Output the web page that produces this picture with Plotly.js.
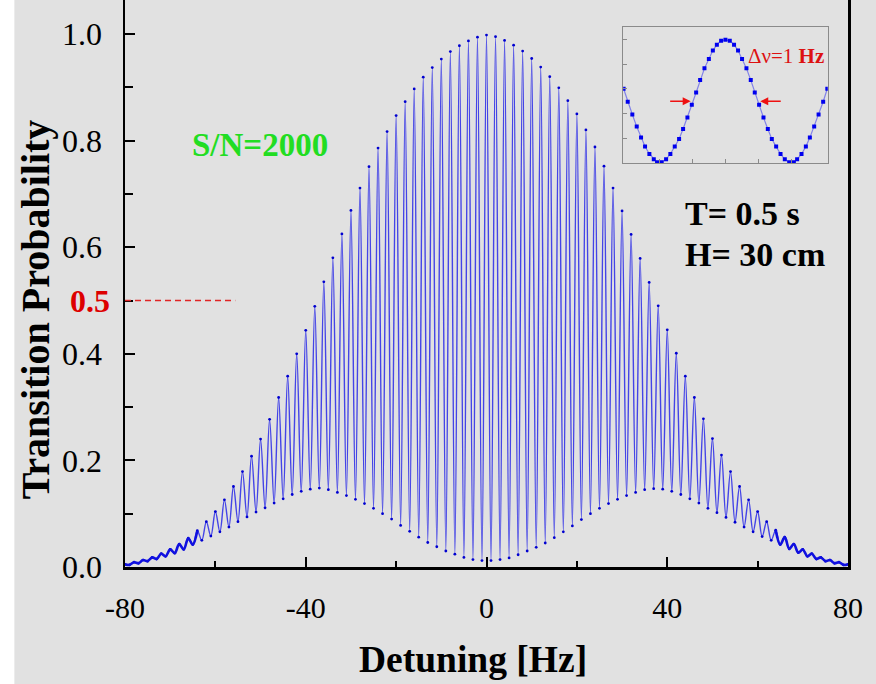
<!DOCTYPE html>
<html>
<head>
<meta charset="utf-8">
<script src="https://cdn.plot.ly/plotly-3.0.1.min.js"></script>
<style>html,body{margin:0;padding:0;background:#fff;}#chart{width:876px;height:684px;}</style>
</head>
<body>
<div id="chart"></div>
<script>
// ---- Main Ramsey fringe: fringe maxima (even detunings) and minima (odd detunings)
const peakDetuning = [-80,-78,-76,-74,-72,-70,-68,-66,-64,-62,-60,-58,-56,-54,-52,-50,-48,-46,-44,-42,-40,-38,-36,-34,-32,-30,-28,-26,-24,-22,-20,-18,-16,-14,-12,-10,-8,-6,-4,-2,0,2,4,6,8,10,12,14,16,18,20,22,24,26,28,30,32,34,36,38,40,42,44,46,48,50,52,54,56,58,60,62,64,66,68,70,72,74,76,78,80];
const peakProb = [0.005,0.009,0.013,0.018,0.025,0.033,0.043,0.054,0.068,0.085,0.104,0.126,0.151,0.179,0.208,0.240,0.277,0.318,0.358,0.400,0.444,0.489,0.535,0.580,0.625,0.669,0.711,0.751,0.786,0.817,0.847,0.873,0.897,0.919,0.937,0.953,0.967,0.978,0.987,0.994,0.998,0.995,0.988,0.979,0.968,0.954,0.938,0.920,0.899,0.875,0.850,0.820,0.788,0.752,0.711,0.668,0.624,0.579,0.534,0.490,0.445,0.401,0.358,0.318,0.278,0.241,0.210,0.179,0.151,0.126,0.104,0.085,0.069,0.056,0.043,0.033,0.025,0.018,0.013,0.009,0.005];
const troughDetuning = [-79,-77,-75,-73,-71,-69,-67,-65,-63,-61,-59,-57,-55,-53,-51,-49,-47,-45,-43,-41,-39,-37,-35,-33,-31,-29,-27,-25,-23,-21,-19,-17,-15,-13,-11,-9,-7,-5,-3,-1,1,3,5,7,9,11,13,15,17,19,21,23,25,27,29,31,33,35,37,39,41,43,45,47,49,51,53,55,57,59,61,63,65,67,69,71,73,75,77,79];
const troughProb = [0.004,0.007,0.011,0.015,0.020,0.026,0.033,0.042,0.050,0.058,0.066,0.075,0.085,0.094,0.103,0.111,0.120,0.128,0.136,0.142,0.146,0.148,0.145,0.140,0.134,0.127,0.119,0.110,0.100,0.090,0.078,0.067,0.056,0.046,0.038,0.030,0.024,0.018,0.014,0.012,0.012,0.014,0.017,0.023,0.030,0.037,0.045,0.055,0.066,0.077,0.089,0.100,0.110,0.119,0.127,0.134,0.140,0.145,0.147,0.146,0.142,0.136,0.128,0.120,0.110,0.102,0.093,0.084,0.075,0.066,0.057,0.050,0.042,0.034,0.027,0.020,0.015,0.011,0.007,0.004];

// ---- Inset: central fringe
const insetDetuning = [-1.553,-1.490,-1.420,-1.353,-1.287,-1.226,-1.160,-1.093,-1.043,-0.972,-0.905,-0.840,-0.773,-0.707,-0.646,-0.580,-0.513,-0.447,-0.386,-0.320,-0.253,-0.192,-0.131,-0.066,0.000,0.066,0.131,0.192,0.253,0.320,0.386,0.447,0.513,0.580,0.646,0.707,0.773,0.840,0.905,0.972,1.043,1.093,1.160,1.226,1.287,1.353,1.420,1.490,1.553];
const insetProb = [0.602,0.496,0.393,0.295,0.206,0.133,0.073,0.030,0.006,0.006,0.030,0.073,0.133,0.195,0.276,0.368,0.472,0.572,0.672,0.767,0.843,0.911,0.959,0.990,0.998,0.990,0.959,0.911,0.843,0.767,0.672,0.572,0.472,0.368,0.276,0.195,0.133,0.073,0.030,0.006,0.006,0.030,0.073,0.133,0.206,0.295,0.393,0.496,0.602];

// ---- Tick labels and reference values
const xTicks = [-80,-40,0,40,80];
const xTickText = ['-80','-40','0','40','80'];
const yTicks = [0,0.2,0.4,0.6,0.8,1.0];
const yTickText = ['0.0','0.2','0.4','0.6','0.8','1.0'];
const halfLevel = 0.5;
const dashStart = -80, dashEnd = -55.6;
const fwhmLeft = -0.5, fwhmRight = 0.5, fwhmLevel = 0.5;
const tailLimit = 64; // beyond this |detuning| the densely sampled trace looks like a thick line

// merge maxima and minima in detuning order
const pts = [];
peakDetuning.forEach((d,i)=>pts.push([d,peakProb[i]]));
troughDetuning.forEach((d,i)=>pts.push([d,troughProb[i]]));
pts.sort((a,b)=>a[0]-b[0]);
const mainX = pts.map(p=>p[0]);
const mainY = pts.map(p=>p[1]);
const leftTail = pts.filter(p=>p[0] <= -tailLimit);
const rightTail = pts.filter(p=>p[0] >= tailLimit);

const SERIF = 'Liberation Serif, Times New Roman, serif';
const BG = '#e1e1e1';

const tailStyle = {type:'scatter', mode:'lines', xaxis:'x', yaxis:'y',
  line:{color:'#1010e0', width:2.6, shape:'spline', smoothing:1}, hoverinfo:'skip'};

const traces = [
  {x: mainX, y: mainY, type:'scatter', mode:'lines+markers', xaxis:'x', yaxis:'y',
   line:{color:'rgba(40,40,232,0.85)', width:1.4, shape:'spline', smoothing:1},
   marker:{color:'#0000d0', size:2.8}, hoverinfo:'x+y'},
  Object.assign({x: leftTail.map(p=>p[0]), y: leftTail.map(p=>p[1])}, tailStyle),
  Object.assign({x: rightTail.map(p=>p[0]), y: rightTail.map(p=>p[1])}, tailStyle),
  {x: insetDetuning, y: insetProb, type:'scatter', mode:'lines+markers', xaxis:'x2', yaxis:'y2',
   line:{color:'rgba(90,90,235,0.7)', width:1.2},
   marker:{color:'#0000ee', size:4, symbol:'square'}, hoverinfo:'x+y'}
];

const layout = {
  width:876, height:684,
  paper_bgcolor: BG, plot_bgcolor: BG,
  margin:{l:125, r:28, t:0, b:117},
  showlegend:false,
  font:{family:SERIF, color:'#000'},
  xaxis:{
    range:[-80,80], tickvals:xTicks, ticktext:xTickText,
    ticks:'inside', ticklen:10, tickwidth:2, tickcolor:'#000',
    showline:true, linecolor:'#000', linewidth:2.5,
    showgrid:false, zeroline:false,
    tickfont:{size:30, family:SERIF}, ticklabelstandoff:12,
    minor:{dtick:20, ticks:'inside', ticklen:6, tickwidth:2, tickcolor:'#000', showgrid:false}
  },
  yaxis:{
    range:[0,1.0638], tickvals:yTicks, ticktext:yTickText,
    ticks:'inside', ticklen:10, tickwidth:2, tickcolor:'#000',
    showline:true, linecolor:'#000', linewidth:2.5, mirror:true,
    showgrid:false, zeroline:false,
    tickfont:{size:32, family:SERIF}, ticklabelstandoff:14,
    minor:{dtick:0.1, ticks:'inside', ticklen:8, tickwidth:2, tickcolor:'#000', showgrid:false}
  },
  xaxis2:{
    domain:[0.689,0.972], anchor:'y2', range:[-1.56,1.56],
    showline:true, mirror:true, linecolor:'#8a8a8a', linewidth:1.2,
    ticks:'inside', tickvals:[-1,-0.5,0,0.5,1], ticklen:4, tickcolor:'#8a8a8a',
    showticklabels:false, showgrid:false, zeroline:false
  },
  yaxis2:{
    domain:[0.7125,0.9519], anchor:'x2', range:[0,1.1],
    showline:true, mirror:true, linecolor:'#8a8a8a', linewidth:1.2,
    ticks:'inside', tickvals:[0.2,0.4,0.6,0.8,1.0], ticklen:4, tickcolor:'#8a8a8a',
    showticklabels:false, showgrid:false, zeroline:false
  },
  shapes:[
    {type:'rect', xref:'paper', yref:'paper', x0:-0.173, x1:-0.153, y0:-0.21, y1:1.0, fillcolor:'#ffffff', line:{width:0}, layer:'below'},
    {type:'line', xref:'x', yref:'y', x0:dashStart, x1:dashEnd, y0:halfLevel, y1:halfLevel, line:{color:'#e02525', width:1.6, dash:'6px,4px'}}
  ],
  annotations:[
    // axis titles
    {xref:'paper', yref:'paper', x:0.481, y:-0.164, xanchor:'center', yanchor:'middle', showarrow:false,
     text:'<b>Detuning [Hz]</b>', font:{size:37.5, family:SERIF, color:'#000'}},
    {xref:'paper', yref:'paper', x:-0.124, y:0.455, xanchor:'center', yanchor:'middle', showarrow:false, textangle:-90,
     text:'<b>Transition Probability</b>', font:{size:40, family:SERIF, color:'#000'}},
    {xref:'paper', yref:'y', x:-0.018, y:halfLevel, xanchor:'right', yanchor:'middle', showarrow:false,
     text:'<b>0.5</b>', font:{size:32, color:'#dd0000', family:SERIF}},
    {xref:'paper', yref:'paper', x:0.1867, y:0.7443, xanchor:'center', yanchor:'middle', showarrow:false,
     text:'<b>S/N=2000</b>', font:{size:33, color:'#22dd22', family:SERIF}},
    {xref:'paper', yref:'paper', x:0.7718, y:0.6243, xanchor:'left', yanchor:'middle', showarrow:false,
     text:'<b>T= 0.5 s</b>', font:{size:34, color:'#000', family:SERIF}},
    {xref:'paper', yref:'paper', x:0.7718, y:0.5503, xanchor:'left', yanchor:'middle', showarrow:false,
     text:'<b>H= 30 cm</b>', font:{size:34, color:'#000', family:SERIF}},
    {xref:'x2', yref:'y2', x:0.92, y:0.87, xanchor:'center', yanchor:'middle', showarrow:false,
     text:'Δν=1 <b>Hz</b>', font:{size:21, color:'#dd1111', family:SERIF}},
    {xref:'x2', yref:'y2', x:fwhmLeft, y:fwhmLevel, ax:-24, ay:0, showarrow:true, arrowhead:2, arrowsize:1, arrowwidth:1.6, arrowcolor:'#ee1111', standoff:2, text:''},
    {xref:'x2', yref:'y2', x:fwhmRight, y:fwhmLevel, ax:24, ay:0, showarrow:true, arrowhead:2, arrowsize:1, arrowwidth:1.6, arrowcolor:'#ee1111', standoff:2, text:''}
  ]
};

Plotly.newPlot('chart', traces, layout, {displayModeBar:false, staticPlot:true});
</script>
</body>
</html>
